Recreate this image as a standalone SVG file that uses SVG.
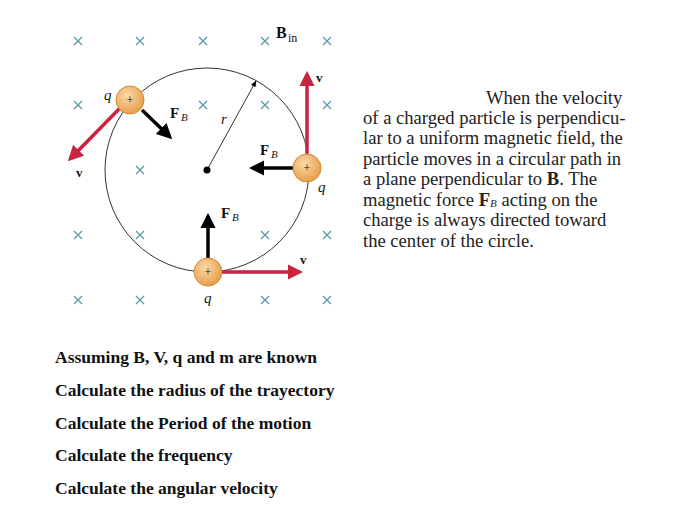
<svg xmlns="http://www.w3.org/2000/svg" width="700" height="518" viewBox="0 0 700 518">
<style>
.x{stroke:#5a9aa8;stroke-width:1.3}
.s{font-family:"Liberation Serif",serif;font-size:18.6px;fill:#222}
.lb{font-family:"Liberation Serif",serif;fill:#111}
.b{font-family:"Liberation Serif",serif;font-size:17.5px;font-weight:bold;fill:#111}
.red{stroke:#c8233f;stroke-width:3.5}
.blk{stroke:#000;stroke-width:3.5}
</style>
<defs>
<marker id="ar" viewBox="0 0 10 10" refX="8" refY="5" markerWidth="4.4" markerHeight="4.4" orient="auto"><path d="M0,0L10,5L0,10z" fill="#c8233f"/></marker>
<marker id="ak" viewBox="0 0 10 10" refX="8" refY="5" markerWidth="4.4" markerHeight="4.4" orient="auto"><path d="M0,0L10,5L0,10z" fill="#000"/></marker>
<marker id="at" viewBox="0 0 10 10" refX="9" refY="5" markerWidth="8" markerHeight="8" orient="auto"><path d="M0,1L10,5L0,9z" fill="#000"/></marker>
<radialGradient id="g" cx="0.4" cy="0.35" r="0.7"><stop offset="0" stop-color="#fbd9a8"/><stop offset="1" stop-color="#e59a45"/></radialGradient>
<path id="cx" d="M-4,-4L4,4M-4,4L4,-4"/>
</defs>
<rect width="700" height="518" fill="#fff"/>
<g id="field">
<use href="#cx" class="x" x="78" y="41"/><use href="#cx" class="x" x="140" y="41"/><use href="#cx" class="x" x="203" y="41"/><use href="#cx" class="x" x="265" y="41"/><use href="#cx" class="x" x="327" y="41"/>
<use href="#cx" class="x" x="78" y="105"/><use href="#cx" class="x" x="203" y="105"/><use href="#cx" class="x" x="265" y="105"/><use href="#cx" class="x" x="327" y="105"/>
<use href="#cx" class="x" x="140" y="170"/>
<use href="#cx" class="x" x="78" y="235"/><use href="#cx" class="x" x="140" y="235"/><use href="#cx" class="x" x="265" y="235"/><use href="#cx" class="x" x="327" y="235"/>
<use href="#cx" class="x" x="78" y="300"/><use href="#cx" class="x" x="140" y="300"/><use href="#cx" class="x" x="265" y="300"/><use href="#cx" class="x" x="327" y="300"/>
<text class="lb" x="276" y="38" font-size="16" font-weight="bold">B</text><text class="lb" x="288" y="42" font-size="12">in</text>
</g>
<g id="orbit">
<circle cx="207" cy="170" r="102" fill="none" stroke="#333" stroke-width="1"/>
<circle cx="207" cy="170" r="3.5" fill="#000"/>
<line x1="207" y1="170" x2="256" y2="81" stroke="#000" stroke-width="0.8" marker-end="url(#at)"/>
<text class="lb" x="221" y="124" font-size="15" font-style="italic">r</text>
</g>
<g id="connectors">
<line class="red" x1="122" y1="106" x2="70" y2="159" marker-end="url(#ar)"/>
<line class="blk" x1="142" y1="110" x2="170" y2="137" marker-end="url(#ak)"/>
<line class="red" x1="307" y1="154" x2="307" y2="74" marker-end="url(#ar)"/>
<line class="blk" x1="293" y1="168" x2="252" y2="168" marker-end="url(#ak)"/>
<line class="blk" x1="208" y1="258" x2="208" y2="216" marker-end="url(#ak)"/>
<line class="red" x1="222" y1="272" x2="300" y2="272" marker-end="url(#ar)"/>
</g>
<g id="p1"><circle cx="130" cy="100" r="14" fill="url(#g)" stroke="#d58a3a"/><text class="lb" x="130" y="104" font-size="12" text-anchor="middle">+</text>
<text class="lb" x="104" y="100" font-size="15" font-style="italic">q</text>
<text class="lb" x="76" y="177" font-size="13" font-weight="bold">v</text>
<text class="lb" x="170" y="118" font-size="15" font-weight="bold">F</text><text class="lb" x="181" y="121" font-size="11" font-style="italic">B</text></g>
<g id="p2"><circle cx="307" cy="168" r="14" fill="url(#g)" stroke="#d58a3a"/><text class="lb" x="307" y="172" font-size="12" text-anchor="middle">+</text>
<text class="lb" x="318" y="192" font-size="15" font-style="italic">q</text>
<text class="lb" x="316" y="82" font-size="13" font-weight="bold">v</text>
<text class="lb" x="260" y="155" font-size="15" font-weight="bold">F</text><text class="lb" x="271" y="158" font-size="11" font-style="italic">B</text></g>
<g id="p3"><circle cx="208" cy="272" r="14" fill="url(#g)" stroke="#d58a3a"/><text class="lb" x="208" y="276" font-size="12" text-anchor="middle">+</text>
<text class="lb" x="204" y="303" font-size="15" font-style="italic">q</text>
<text class="lb" x="300" y="264" font-size="13" font-weight="bold">v</text>
<text class="lb" x="221" y="218" font-size="15" font-weight="bold">F</text><text class="lb" x="232" y="221" font-size="11" font-style="italic">B</text></g>
<g id="caption">
<text class="s" x="486" y="104">When the velocity</text>
<text class="s" x="363" y="124">of a charged particle is perpendicu-</text>
<text class="s" x="363" y="144">lar to a uniform magnetic field, the</text>
<text class="s" x="363" y="165">particle moves in a circular path in</text>
<text class="s" x="363" y="185">a plane perpendicular to <tspan font-weight="bold">B</tspan>. The</text>
<text class="s" x="363" y="206">magnetic force <tspan font-weight="bold">F</tspan><tspan font-size="11" font-style="italic" dy="1">B</tspan><tspan dy="-1"> acting on the</tspan></text>
<text class="s" x="363" y="226">charge is always directed toward</text>
<text class="s" x="363" y="247">the center of the circle.</text>
</g>
<g id="questions">
<text class="b" x="55" y="363">Assuming B, V, q and m are known</text>
<text class="b" x="55" y="396">Calculate the radius of the trayectory</text>
<text class="b" x="55" y="429">Calculate the Period of the motion</text>
<text class="b" x="55" y="461">Calculate the frequency</text>
<text class="b" x="55" y="494">Calculate the angular velocity</text>
</g>
</svg>
